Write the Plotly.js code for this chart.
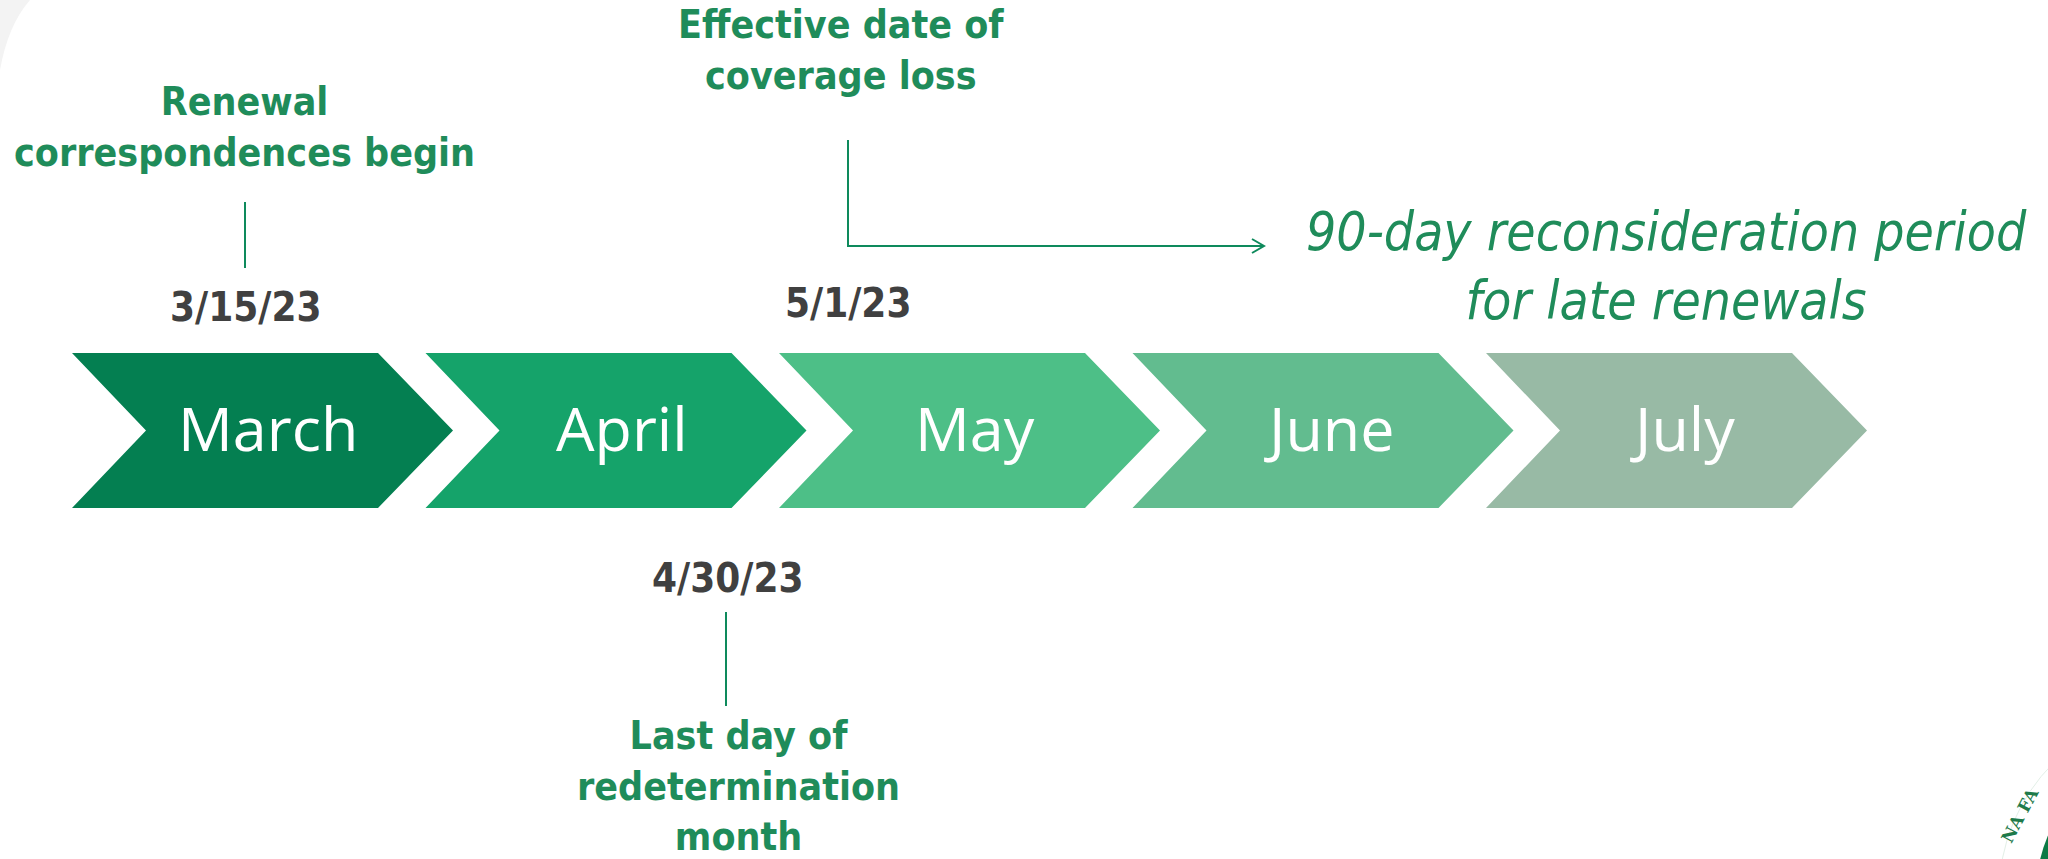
<!DOCTYPE html>
<html>
<head>
<meta charset="utf-8">
<script src="https://cdn.plot.ly/plotly-3.0.1.min.js"></script>
<style>
  html, body { margin: 0; padding: 0; background: #ffffff; }
  #chart { width: 2048px; height: 859px; }
</style>
</head>
<body>
<div id="chart"></div>
<script>
// ---------- data ----------
const months = ['March', 'April', 'May', 'June', 'July'];
const milestoneDates = ['3/15/23', '4/30/23', '5/1/23'];
const milestoneNotes = [
  'Renewal<br>correspondences begin',
  'Last day of<br>redetermination<br>month',
  'Effective date of<br>coverage loss'
];
const periodNote = '90-day reconsideration period<br>for late renewals';

// ---------- style / layout config ----------
const monthColors = ['#047F51', '#15A36A', '#4DBF87', '#62BC8F', '#98BAA5'];
const GREEN_TEXT = '#1F8C5A';
const LINE_GREEN = '#0E8A5C';
const DATE_GREY = '#404040';
const BOLD_FAMILY = "'DejaVu Sans Condensed', 'DejaVu Sans', sans-serif";
const MONTH_FAMILY = "'Open Sans', 'Noto Sans', sans-serif";

const chev = { x0: 72, pitch: 353.5, top: 353, bottom: 508, body: 306, tip: 381, notch: 74 };
const mid = (chev.top + chev.bottom) / 2;

// milestone placement (layout)
const msPos = [
  { dateX: 245, dateY: 307, noteX: 244, noteY: 127, line: [[245, 202], [245, 268]] },
  { dateX: 727, dateY: 578, noteX: 738, noteY: 786, line: [[726, 612], [726, 706]] },
  { dateX: 848, dateY: 303, noteX: 841, noteY: 50, line: [[848, 140], [848, 246], [1264, 246]] }
];
const periodPos = { x: 1666, y: 266 };
const arrowHead = { x: 1264, y: 246, w: 12, h: 7 };

const traces = [];
const annotations = [];

// chevrons
months.forEach((m, i) => {
  const x0 = chev.x0 + i * chev.pitch;
  traces.push({
    type: 'scatter', mode: 'lines', fill: 'toself',
    x: [x0, x0 + chev.body, x0 + chev.tip, x0 + chev.body, x0, x0 + chev.notch, x0],
    y: [chev.top, chev.top, mid, chev.bottom, chev.bottom, mid, chev.top],
    fillcolor: monthColors[i], line: { width: 0, color: monthColors[i] },
    hoverinfo: 'skip', showlegend: false
  });
  annotations.push({
    x: x0 + 196, y: mid - 3, xref: 'x', yref: 'y', text: m, showarrow: false,
    xanchor: 'center', yanchor: 'middle',
    font: { family: MONTH_FAMILY, size: 61, color: '#ffffff', weight: 400 }
  });
});

// milestones
milestoneDates.forEach((d, i) => {
  const p = msPos[i];
  traces.push({
    type: 'scatter', mode: 'lines',
    x: p.line.map(q => q[0]), y: p.line.map(q => q[1]),
    line: { color: LINE_GREEN, width: 2 }, hoverinfo: 'skip', showlegend: false
  });
  annotations.push({
    x: p.dateX, y: p.dateY, xref: 'x', yref: 'y', text: d, showarrow: false,
    xanchor: 'center', yanchor: 'middle',
    font: { family: BOLD_FAMILY, size: 40, color: DATE_GREY, weight: 'bold' }
  });
  annotations.push({
    x: p.noteX, y: p.noteY, xref: 'x', yref: 'y', text: milestoneNotes[i], showarrow: false,
    xanchor: 'center', yanchor: 'middle', align: 'center',
    font: { family: BOLD_FAMILY, size: 39, color: GREEN_TEXT, weight: 'bold' }
  });
});

// open arrow head
traces.push({
  type: 'scatter', mode: 'lines',
  x: [arrowHead.x - arrowHead.w, arrowHead.x, arrowHead.x - arrowHead.w],
  y: [arrowHead.y - arrowHead.h, arrowHead.y, arrowHead.y + arrowHead.h],
  line: { color: LINE_GREEN, width: 2 }, hoverinfo: 'skip', showlegend: false
});

annotations.push({
  x: periodPos.x, y: periodPos.y, xref: 'x', yref: 'y', text: periodNote, showarrow: false,
  xanchor: 'center', yanchor: 'middle', align: 'center',
  font: { family: BOLD_FAMILY, size: 53, color: GREEN_TEXT, style: 'italic' }
});

// decorative corner seal (partially visible) and faint swoosh
const shapes = [
  { type: 'circle', xref: 'x', yref: 'y', x0: 2184 - 185, x1: 2184 + 185, y0: 894 - 185, y1: 894 + 185,
    fillcolor: '#ffffff', line: { color: '#e3efe7', width: 1 }, layer: 'below' },
  { type: 'circle', xref: 'x', yref: 'y', x0: 2184 - 148, x1: 2184 + 148, y0: 894 - 148, y1: 894 + 148,
    fillcolor: '#0B7A45', line: { width: 0 }, layer: 'below' },
  { type: 'path', xref: 'x', yref: 'y', path: 'M 0 0 L 30 0 Q 8 25 0 70 Z',
    fillcolor: '#f3f3f3', line: { width: 0 }, layer: 'below' }
];
annotations.push({
  x: 2020, y: 815, xref: 'x', yref: 'y', text: 'NA FA', showarrow: false, textangle: -62,
  font: { family: "'DejaVu Serif', serif", size: 17, color: '#1E7A4A', weight: 'bold' }
});

const layout = {
  width: 2048, height: 859,
  margin: { l: 0, r: 0, t: 0, b: 0, pad: 0 },
  paper_bgcolor: '#ffffff', plot_bgcolor: '#ffffff',
  xaxis: { range: [0, 2048], visible: false, fixedrange: true },
  yaxis: { range: [859, 0], visible: false, fixedrange: true },
  showlegend: false,
  shapes: shapes,
  annotations: annotations
};

Plotly.newPlot('chart', traces, layout, { staticPlot: true, displayModeBar: false });
</script>
</body>
</html>
